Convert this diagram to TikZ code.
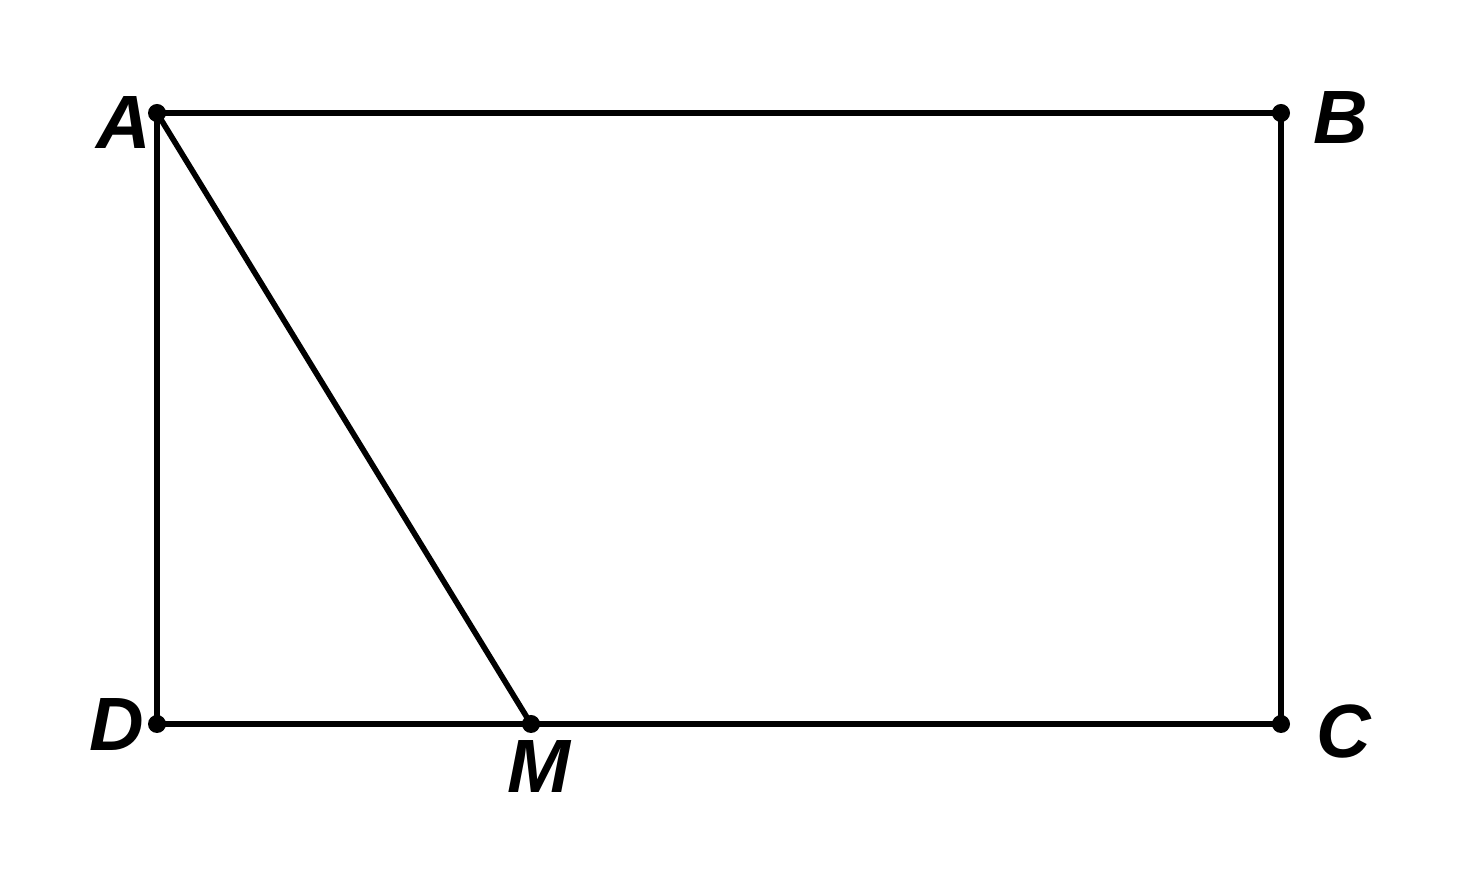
\documentclass[tikz,border=0pt]{standalone}
\usepackage{fontspec}
\setmainfont{Liberation Sans}
\usetikzlibrary{positioning}

\tikzset{
    side/.style={line width=3.2pt, line cap=round, line join=round},
    pt/.style={circle, fill, inner sep=0pt, minimum size=0.36cm},
    lbl/.style={font=\fontsize{43}{48}\selectfont\bfseries\itshape, inner sep=0pt}
}

\begin{document}
\begin{tikzpicture}

\useasboundingbox (0,0) rectangle (29.4,17.9);

\coordinate (A) at (3.14, 15.64);
\coordinate (B) at (25.62, 15.64);
\coordinate (C) at (25.62, 3.42);
\coordinate (D) at (3.14, 3.42);
\coordinate (M) at (10.62, 3.42);

    \draw [side] (A) -- (B) -- (C) -- (D) -- cycle;
    \draw [side] (A) -- (M);

    \node [pt] (ptA) at (A) {};
    \node [pt] (ptB) at (B) {};
    \node [pt] (ptC) at (C) {};
    \node [pt] (ptD) at (D) {};
    \node [pt] (ptM) at (M) {};

    \node [lbl] (labA) at (2.48, 15.45) {A};
    \node [lbl] (labB) at (26.81, 15.55) {B};
    \node [lbl] (labC) at (26.88, 3.27) {C};
    \node [lbl] (labD) at (2.33, 3.40) {D};
    \node [lbl] (labM) at (10.78, 2.57) {M};

\end{tikzpicture}
\end{document}
